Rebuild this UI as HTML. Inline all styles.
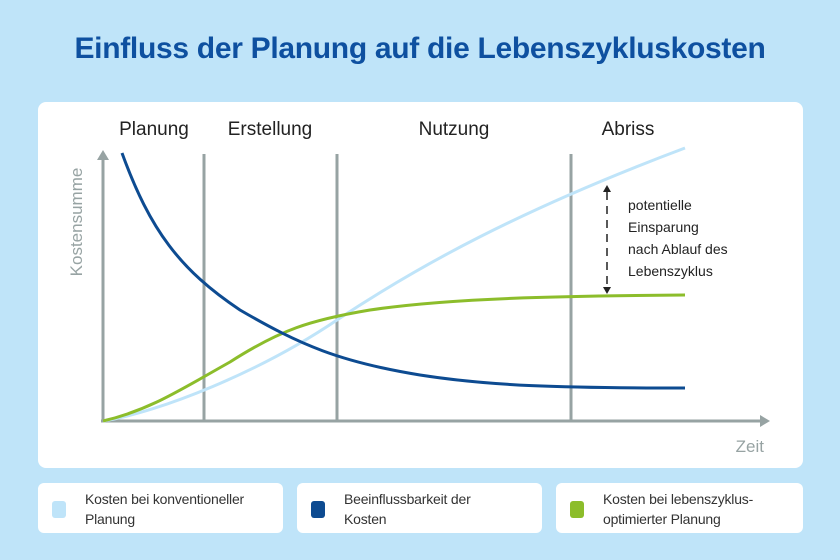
<!DOCTYPE html>
<html><head><meta charset="utf-8"><style>
body{margin:0;width:840px;height:560px;background:#bfe4f9;font-family:"Liberation Sans",sans-serif;position:relative;overflow:hidden}
.title{position:absolute;top:32px;left:0;width:840px;text-align:center;font-size:30px;font-weight:bold;color:#0e50a0;letter-spacing:-0.3px}
.card{position:absolute;left:38px;top:102px;width:765px;height:366px;background:#fff;border-radius:8px}
.leg{position:absolute;top:483px;height:50px;width:245px;background:#fff;border-radius:6px;font-size:14px;color:#333;line-height:20px}
.leg .sw{position:absolute;left:14px;top:18px;width:14px;height:17px;border-radius:3px}
.leg .t{position:absolute;left:47px;top:6px;letter-spacing:-0.2px}
</style></head><body>
<div class="title">Einfluss der Planung auf die Lebenszykluskosten</div>
<div class="card"></div>
<svg width="840" height="560" style="position:absolute;left:0;top:0">
<g font-family="Liberation Sans, sans-serif" font-size="19" fill="#222" text-anchor="middle">
<text x="154" y="135">Planung</text><text x="270" y="135">Erstellung</text><text x="454" y="135">Nutzung</text><text x="628" y="135">Abriss</text>
</g>
<g stroke="#97a3a3" stroke-width="3" fill="none">
<line x1="103" y1="421" x2="103" y2="156"/><line x1="101" y1="421" x2="763" y2="421"/>
<line x1="204" y1="154" x2="204" y2="421"/><line x1="337" y1="154" x2="337" y2="421"/><line x1="571" y1="154" x2="571" y2="421"/>
</g>
<polygon points="97,160 103,150 109,160" fill="#97a3a3"/>
<polygon points="760,415 770,421 760,427" fill="#97a3a3"/>
<text x="82" y="222" transform="rotate(-90 82 222)" font-size="17" fill="#97a3a3" text-anchor="middle" font-family="Liberation Sans, sans-serif">Kostensumme</text>
<text x="764" y="452" font-size="17" fill="#97a3a3" text-anchor="end" font-family="Liberation Sans, sans-serif">Zeit</text>
<path d="M103,421 C160,412 260,372 337,320 C420,265 520,210 685,148" stroke="#bfe4f9" stroke-width="3" fill="none"/>
<path d="M103,421 C150,410 180,390 230,362 C280,330 310,320 370,310 C450,298 560,296 685,295" stroke="#8cbd2b" stroke-width="3" fill="none"/>
<path d="M122,153 C150,230 180,270 240,310 C300,345 340,362 420,375 C490,386 560,388 685,388" stroke="#0d4b91" stroke-width="3" fill="none"/>
<line x1="607" y1="192" x2="607" y2="286" stroke="#222" stroke-width="1.5" stroke-dasharray="8,6"/>
<polygon points="603,192 607,185 611,192" fill="#222"/><polygon points="603,287 607,294 611,287" fill="#222"/>
<g font-family="Liberation Sans, sans-serif" font-size="14" fill="#222">
<text x="628" y="210">potentielle</text><text x="628" y="232">Einsparung</text><text x="628" y="254">nach Ablauf des</text><text x="628" y="276">Lebenszyklus</text>
</g>
</svg>
<div class="leg" style="left:38px"><div class="sw" style="background:#bfe4f9"></div><div class="t">Kosten bei konventioneller<br>Planung</div></div>
<div class="leg" style="left:297px"><div class="sw" style="background:#0d4b91"></div><div class="t">Beeinflussbarkeit der<br>Kosten</div></div>
<div class="leg" style="left:556px;width:247px"><div class="sw" style="background:#8cbd2b"></div><div class="t">Kosten bei lebenszyklus-<br>optimierter Planung</div></div>
</body></html>
